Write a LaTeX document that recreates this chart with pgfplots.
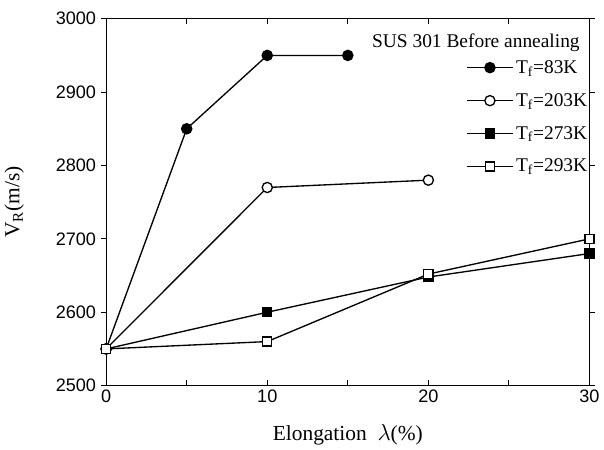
\documentclass[border=0pt]{standalone}
\usepackage{fontspec}
\setmainfont{Liberation Serif}
\setsansfont{Liberation Sans}
\usepackage{pgfplots}
\pgfplotsset{compat=1.18}

\begin{document}
\begin{tikzpicture}
\begin{axis}[
    width=361pt, height=274pt,
    scale only axis,
    xmin=0, xmax=30, ymin=2500, ymax=3000,
    xtick={0,10,20,30},
    minor xtick={5,15,25},
    ytick={2500,2600,2700,2800,2900,3000},
    xtick align=inside,
    ytick align=outside,
    major tick length=4pt, minor tick length=4pt,
    axis line style={line width=0.9pt},
    every tick/.style={line width=0.8pt, black},
    /pgf/number format/assume math mode=true,
    /pgf/number format/1000 sep={},
    tick label style={font=\fontsize{13.5}{15}\sffamily},
    xlabel={Elongation \ \(\lambda\)(\%)},
    ylabel={V\textsubscript{R}(m/s)},
    label style={font=\fontsize{16}{18}\selectfont},
    xlabel style={yshift=-9pt},
    ylabel style={yshift=17pt},
    every axis plot/.append style={line width=1pt, black},
    legend style={draw=none, fill=none, at={(rel axis cs:0.745,0.895)}, anchor=north west,
        font=\fontsize{14.5}{16}\selectfont, row sep=9.5pt, inner sep=0pt},
    legend cell align=left,
    legend image code/.code={\draw[mark repeat=2,mark phase=2] plot coordinates {(0pt,0pt) (17pt,0pt) (34pt,0pt)};},
]
\addplot[mark=*, mark size=3.8pt, mark options={fill=black}] coordinates {
    (0,2550) (5,2850) (10,2950) (15,2950)
};
\addlegendentry{T\textsubscript{f}=83K}
\addplot[mark=*, mark size=3.8pt, mark options={fill=white}] coordinates {
    (0,2550) (10,2770) (20,2780)
};
\addlegendentry{T\textsubscript{f}=203K}
\addplot[mark=square*, mark size=3.4pt, mark options={fill=black}] coordinates {
    (0,2550) (10,2600) (20,2648) (30,2680)
};
\addlegendentry{T\textsubscript{f}=273K}
\addplot[mark=square*, mark size=3.4pt, mark options={fill=white}] coordinates {
    (0,2550) (10,2560) (20,2652) (30,2700)
};
\addlegendentry{T\textsubscript{f}=293K}
\node[font=\fontsize{14.5}{16}\selectfont] at (rel axis cs:0.765,0.935) {SUS 301 Before annealing};
\end{axis}
\path ([yshift=14pt]current axis.north);
\end{tikzpicture}
\end{document}
